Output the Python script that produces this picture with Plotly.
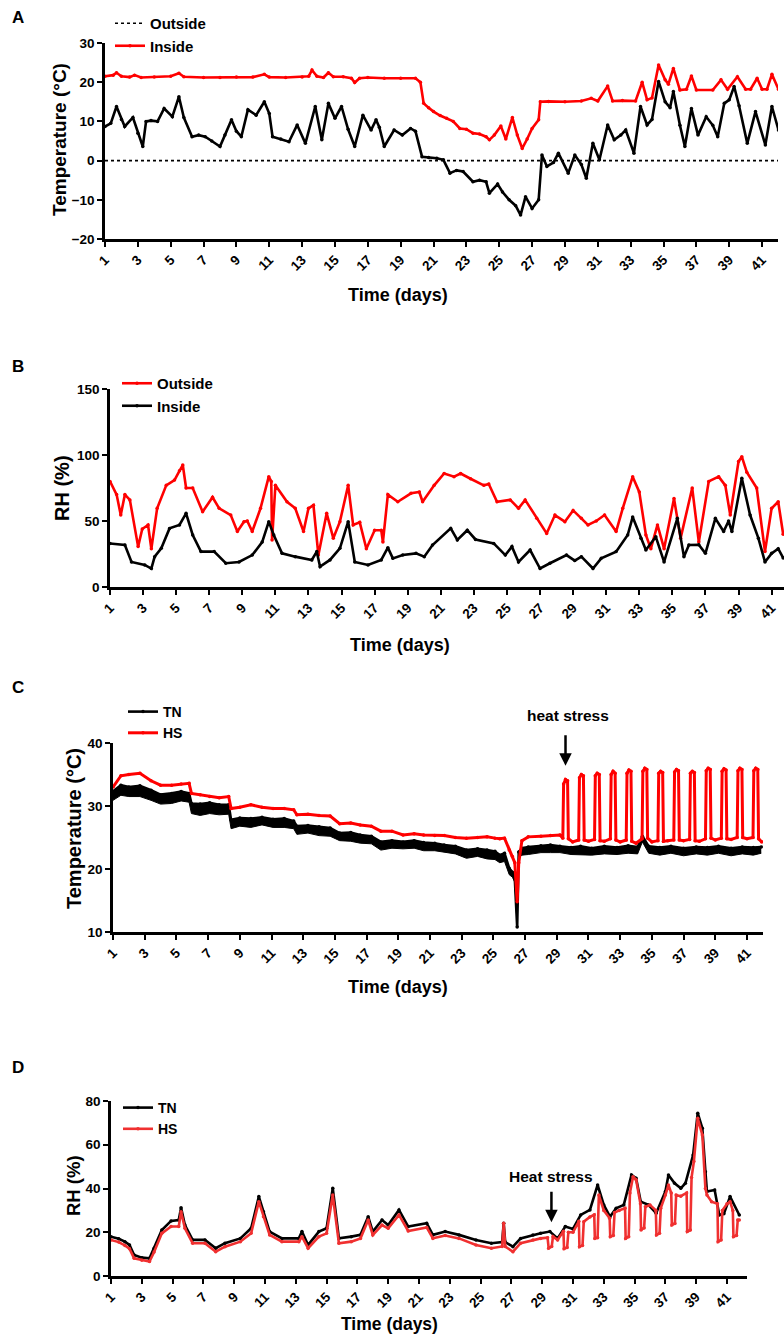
import plotly.graph_objects as go

W, H = 784, 1336

# ---------------- data ----------------
day_ticks = list(range(1, 42, 2))

# Panel A: temperature (°C)
a_out_day = [1, 1.35, 1.7, 2.0, 2.2, 2.7, 3.0, 3.3, 3.5, 3.8,
             4.2, 4.6, 5.1, 5.5, 5.8, 6.3, 6.7, 7.1, 7.5, 8.0,
             8.3, 8.7, 9.0, 9.3, 9.7, 10.2, 10.7, 11.0, 11.2, 11.7,
             12.2, 12.7, 13.2, 13.8, 14.2, 14.6, 15.0, 15.4, 15.8, 16.2,
             16.7, 17.2, 17.5, 17.7, 18.0, 18.6, 19.1, 19.6, 19.9, 20.3,
             20.7, 21.2, 21.6, 22.0, 22.4, 22.8, 23.4, 23.8, 24.2, 24.4,
             24.9, 25.2, 25.6, 26.0, 26.3, 26.6, 27.0, 27.4, 27.6, 27.9,
             28.3, 28.6, 29.2, 29.6, 30.0, 30.3, 30.7, 31.1, 31.6, 32.0,
             32.4, 32.7, 33.2, 33.6, 34.0, 34.3, 34.7, 35.1, 35.4, 35.6,
             36.0, 36.3, 36.7, 37.1, 37.6, 38.0, 38.3, 38.7, 39.0, 39.3,
             39.6, 40.1, 40.6, 41.2, 41.6, 42.0]
a_out_temp = [8.7, 9.5, 13.8, 10.5, 8.7, 11, 7, 3.6, 10, 10.2,
              10, 13.3, 11.2, 16.3, 11, 6.1, 6.5, 6.1, 5.0, 3.6,
              6.5, 10.4, 7.5, 6.1, 13, 11.6, 15, 12, 6.1, 5.5,
              4.8, 9.1, 4.4, 13.8, 5.3, 14.6, 10.8, 13.8, 8.0, 3.6,
              11.6, 7.8, 10.4, 8.5, 3.6, 7.8, 6.5, 8.2, 7.5, 1,
              0.8, 0.6, 0.2, -3.2, -2.5, -2.8, -5.4, -5.0, -5.4, -8.3,
              -6.0, -8.0, -10, -11.5, -13.9, -9.2, -12.2, -10, 1.4, -1.5,
              -0.5, 1.9, -3.2, 1.4, -1.0, -4.5, 4.4, 0.2, 9.1, 5.3,
              6.5, 7.8, 1.9, 13.8, 9.1, 10.5, 20.2, 15, 13.5, 17.6,
              9.0, 3.6, 13.3, 6.5, 11.2, 9.0, 6.1, 14.6, 15.5, 18.9,
              14, 4.4, 12.5, 4, 13.8, 7.8]
a_in_day = [1, 1.5, 1.7, 2.0, 2.5, 2.8, 3.2, 4.0, 5.0, 5.5,
            5.8, 7.0, 8.0, 9.0, 10.0, 10.7, 11.0, 12.0, 13.0, 13.4,
            13.6, 13.9, 14.3, 14.6, 14.9, 15.5, 16.0, 16.2, 16.5, 17.0,
            18.0, 19.0, 19.9, 20.2, 20.4, 20.7, 21.0, 21.4, 21.8, 22.2,
            22.6, 23.0, 23.4, 23.8, 24.2, 24.4, 24.7, 25.1, 25.4, 25.8,
            26.1, 26.4, 26.7, 27.0, 27.4, 27.5, 28.0, 29.0, 30.0, 30.6,
            31.0, 31.6, 31.9, 32.5, 33.3, 33.7, 34.0, 34.3, 34.7, 35.1,
            35.3, 35.6, 36.0, 36.4, 36.7, 37.0, 38.0, 38.5, 38.9, 39.5,
            40.0, 40.3, 40.7, 41.0, 41.3, 41.6, 42.0]
a_in_temp = [21.5, 21.8, 22.4, 21.5, 21.3, 21.8, 21.2, 21.3, 21.5, 22.3,
             21.4, 21.2, 21.2, 21.3, 21.3, 22, 21.3, 21.2, 21.3, 21.5,
             23.1, 21.5, 21.2, 22.4, 21.4, 21.4, 21.0, 19.9, 21.0, 21.2,
             21.0, 21.0, 21.0, 20, 14.6, 13.5, 12.5, 11.5, 10.8, 10,
             8.2, 8.0, 7, 6.8, 6.1, 5.3, 6.5, 8.8, 5.5, 11,
             6.5, 3.1, 5.5, 8.2, 10.4, 15, 15.1, 15.0, 15.2, 15.9,
             15.2, 19, 15.2, 15.3, 15.2, 20, 15.5, 16, 24.4, 20.6,
             19.5, 23.5, 18, 18.2, 21.6, 18, 18, 20.6, 18.2, 21.4,
             18.2, 18.2, 21, 18.2, 18.2, 22, 18.2]

# Panel B: relative humidity (%)
b_out_day = [1, 1.4, 1.65, 1.9, 2.2, 2.7, 2.95, 3.3, 3.5, 3.85,
             4.4, 4.9, 5.2, 5.4, 5.6, 6.0, 6.6, 7.2, 7.6, 8.3,
             8.7, 9.1, 9.3, 9.6, 10.1, 10.6, 10.75, 10.8, 11.0, 11.7,
             12.2, 12.7, 13.0, 13.3, 13.6, 14.1, 14.5, 14.9, 15.4, 15.7,
             16.1, 16.5, 17.0, 17.4, 17.5, 17.8, 18.4, 19.2, 19.7, 19.9,
             20.6, 21.2, 21.8, 22.2, 22.8, 23.6, 23.9, 24.4, 25.2, 25.7,
             26.1, 26.8, 27.4, 27.9, 28.5, 29.0, 29.5, 29.9, 30.4, 30.9,
             31.6, 32.0, 32.6, 33.0, 33.4, 33.7, 34.1, 34.5, 35.1, 35.5,
             36.2, 36.6, 37.2, 37.8, 38.2, 38.5, 39.0, 39.2, 39.5, 40.1,
             40.6, 41.0, 41.4, 41.7]
b_out_rh = [80, 70, 54.5, 70, 66, 30.6, 44, 47, 29, 59.6,
            77, 81, 88, 92.4, 75, 75, 57, 68, 59.6, 54.5,
            42, 49.5, 50, 42, 59.6, 83.6, 80, 35.6, 77, 64.6,
            59.6, 42, 59.6, 62, 24.2, 55.8, 37, 49.5, 77, 47,
            49, 29, 43, 43, 34, 70, 64.6, 71, 72, 64.6,
            77, 86, 83.6, 86, 82, 77, 78, 64.6, 66, 59.6,
            66, 52, 40.6, 54.5, 49.5, 58, 52, 47, 50, 54.5,
            42, 59.6, 83.6, 72, 39.4, 29, 47, 29, 67, 37,
            75, 34, 80, 83.6, 77, 54.5, 95, 98.7, 87, 75,
            26.8, 59.6, 64.6, 40]
b_in_day = [1, 1.9, 2.3, 3.1, 3.5, 3.7, 4.1, 4.6, 5.2, 5.6,
            6.0, 6.5, 7.3, 8.0, 8.8, 9.6, 10.2, 10.6, 10.9, 11.4,
            12.2, 13.2, 13.5, 13.7, 14.3, 14.9, 15.4, 15.8, 16.6, 17.4,
            17.8, 18.1, 18.7, 19.5, 20.0, 20.5, 21.6, 22.0, 22.6, 23.1,
            24.2, 24.9, 25.3, 25.7, 26.4, 27.0, 27.6, 28.6, 29.1, 29.5,
            30.2, 30.7, 31.6, 32.3, 32.6, 33.1, 33.4, 34.0, 34.5, 35.3,
            35.7, 36.0, 36.6, 37.0, 37.6, 38.1, 38.4, 38.6, 39.2, 39.7,
            40.2, 40.6, 41.0, 41.4, 41.7]
b_in_rh = [33, 31.8, 19, 16.7, 14, 23, 29.3, 44.4, 47, 55.8,
           39.4, 26.8, 26.8, 18, 19, 24.2, 34, 49.5, 39.4, 25.5,
           23, 20.5, 26.8, 15.4, 20.5, 29.3, 49.5, 19, 16.7, 20.5,
           29.8, 21.7, 24.2, 25.5, 23, 31.8, 44.4, 35.6, 43, 36,
           33, 24.2, 30.6, 19, 28, 14, 18, 24.2, 20, 23,
           14, 21.7, 26.8, 39.4, 53, 37, 28, 38, 19, 52,
           23, 31.8, 32, 25.5, 52, 42, 50, 42, 82.3, 54.5,
           37, 19, 25.5, 29, 22]

# Panel C: room temperature (°C), TN vs HS
c_tn_day = [1, 1.5, 2, 2.7, 3.4, 4, 4.7, 5.3, 5.8, 5.95,
            6.5, 7.1, 7.7, 8.3, 8.45, 9, 9.7, 10.4, 11.1, 11.8,
            12.4, 12.6, 13.3, 14, 14.7, 15.3, 16, 16.6, 17.3, 17.9,
            18.6, 19.3, 20, 20.6, 21.3, 21.9, 22.6, 23.3, 24, 24.6,
            25.1, 25.4, 25.7, 26, 26.2, 26.35, 26.5, 26.6, 26.8, 27.2,
            28, 28.6, 29.2, 29.9, 30.5, 31.2, 32, 32.8, 33.5, 34.1,
            34.4, 34.8, 35.5, 36.2, 37, 37.8, 38.5, 39.2, 40, 40.7,
            41.4, 41.9]
c_tn_temp = [32.3, 33.3, 33, 33.2, 32.5, 31.8, 32, 32.3, 32, 30.4,
             30.3, 30.5, 30.2, 30.2, 27.8, 28.1, 28, 28.2, 27.9, 28,
             27.6, 26.8, 26.9, 26.7, 26.5, 25.7, 25.8, 25.4, 25.2, 24.3,
             24.5, 24.3, 24.5, 24.2, 24.1, 23.8, 23.6, 23, 23.2, 23,
             22.8, 22.2, 22.5, 20.1, 19.5, 18.5, 10.8, 22.7, 23.3, 23.5,
             23.7, 23.8, 23.6, 23.4, 23.6, 23.3, 23.6, 23.4, 23.7, 23.5,
             25.2, 23.6, 23.4, 23.6, 23.3, 23.5, 23.4, 23.6, 23.3, 23.5,
             23.4, 23.5]
c_tn_sd = [1.4, 1.6, 1.5, 1.7, 1.6, 1.5, 1.6, 1.5, 1.4, 1.6,
           1.8, 1.7, 1.6, 1.5, 1.4, 1.3, 1.4, 1.2, 1.3, 1.4,
           1.2, 1.3, 1.2, 1.4, 1.3, 1.2, 1.4, 1.3, 1.2, 1.3,
           1.2, 1.1, 1.2, 1.3, 1.2, 1.1, 1.2, 1.3, 1.2, 1.4,
           1.3, 1.2, 1.3, 1.0, 0.8, 0.6, 0.0, 1.0, 1.1, 1.2,
           1.1, 1.2, 1.0, 1.1, 1.3, 1.1, 1.2, 1.1, 1.2, 1.1,
           0.9, 1.1, 1.2, 1.1, 1.2, 1.1, 1.2, 1.1, 1.2, 1.1,
           1.2, 1.0]
c_hs_day = [1, 1.5, 2, 2.7, 3.4, 4, 4.7, 5.3, 5.8, 5.95,
            6.5, 7.1, 7.7, 8.3, 8.45, 9, 9.7, 10.4, 11.1, 11.8,
            12.4, 12.6, 13.3, 14, 14.7, 15.3, 16, 16.6, 17.3, 17.9,
            18.6, 19.3, 20, 20.6, 21.3, 21.9, 22.6, 23.3, 24, 24.6,
            25.1, 25.4, 25.7, 26, 26.2, 26.35, 26.5, 26.6, 26.8, 27.2,
            28, 28.6, 29.2,
            29.38, 29.43, 29.55, 29.68, 29.73, 30.0,
            30.38, 30.43, 30.55, 30.68, 30.73, 31.0,
            31.38, 31.43, 31.55, 31.68, 31.73, 32.0,
            32.38, 32.43, 32.55, 32.68, 32.73, 33.0,
            33.38, 33.43, 33.55, 33.68, 33.73, 34.0,
            34.38, 34.43, 34.55, 34.68, 34.73, 35.0,
            35.38, 35.43, 35.55, 35.68, 35.73, 36.0,
            36.38, 36.43, 36.55, 36.68, 36.73, 37.0,
            37.38, 37.43, 37.55, 37.68, 37.73, 38.0,
            38.38, 38.43, 38.55, 38.68, 38.73, 39.0,
            39.38, 39.43, 39.55, 39.68, 39.73, 40.0,
            40.38, 40.43, 40.55, 40.68, 40.73, 41.0,
            41.38, 41.43, 41.55, 41.68, 41.73, 41.93]
c_hs_temp = [33, 34.8, 35, 35.2, 34, 33.3, 33.3, 33.5, 33.6, 32,
             31.8, 31.5, 31.3, 31.5, 29.6, 29.8, 30.2, 29.8, 29.6, 29.6,
             29.4, 28.6, 28.7, 28.5, 28.4, 27.2, 27.3, 27, 26.8, 26,
             26, 25.4, 25.6, 25.4, 25.3, 25.3, 25, 24.9, 25, 25.1,
             24.9, 24.8, 24.9, 23, 22, 21, 14.8, 21, 24.5, 25.1,
             25.2, 25.3, 25.4,
             24.9, 33.5, 34.2, 34.0, 24.8, 24.3,
             24.6, 34.5, 35.0, 34.8, 24.6, 24.4,
             24.7, 34.8, 35.2, 35.0, 24.5, 24.4,
             24.8, 35.0, 35.5, 35.2, 24.6, 24.3,
             24.6, 35.2, 35.7, 35.5, 24.4, 24.1,
             24.8, 35.5, 36.0, 35.8, 24.9, 24.3,
             24.5, 35.2, 35.5, 35.3, 24.4, 24.5,
             24.6, 35.4, 35.8, 35.6, 24.6, 24.5,
             24.7, 35.2, 35.5, 35.3, 24.5, 24.4,
             24.8, 35.6, 36.0, 35.8, 24.9, 24.6,
             24.9, 35.5, 35.9, 35.7, 24.8, 24.7,
             25.0, 35.6, 36.0, 35.8, 25.0, 24.8,
             25.0, 35.6, 36.0, 35.8, 24.8, 24.3]

# Panel D: room relative humidity (%), TN vs HS
d_tn_day = [1, 1.5, 1.9, 2.2, 2.5, 3, 3.5, 3.8, 4.3, 4.9,
            5.4, 5.55, 5.8, 6.3, 7.1, 7.8, 8.4, 9.4, 10.1, 10.6,
            10.9, 11.3, 12.1, 13.2, 13.4, 13.8, 14.5, 15, 15.4, 15.8,
            16.6, 17.2, 17.7, 18, 18.6, 19, 19.7, 20.3, 21.5, 21.9,
            22.7, 23.6, 24.7, 25.7, 26.4, 26.5, 26.6, 27.1, 27.6, 28.4,
            28.9, 29.5, 30, 30.5, 31, 31.5, 32.1, 32.6, 33, 33.4,
            33.8, 34.3, 34.8, 35.1, 35.4, 35.9, 36.4, 37, 37.2, 37.6,
            38, 38.3, 38.8, 39.1, 39.4, 39.6, 39.7, 40.2, 40.5, 40.8,
            41.2, 41.8]
d_tn_rh = [18, 17, 15.7, 14.2, 9.6, 8.4, 8.1, 12.7, 21, 25.2,
           25.6, 31.2, 23.3, 16.5, 16.5, 12.7, 15, 17.2, 21.8, 36.3,
           29.4, 20.3, 17.2, 17.2, 20.3, 14.2, 20.3, 21.8, 40.1, 17.2,
           18, 18.8, 27.1, 20.3, 25.6, 23.3, 30.2, 22.6, 24.1, 18.8,
           20.3, 18.8, 16.5, 15, 15.5, 24.1, 15.5, 13.4, 17.2, 18.8,
           19.5, 20.3, 17.2, 22.6, 21.5, 27.9, 30.2, 41.6, 32.5, 27.1,
           31, 32.5, 46.2, 44.7, 34, 32.5, 28.7, 38.6, 46.2, 42.4,
           40.1, 42.4, 55.3, 74.4, 67.5, 47.7, 38.6, 39.3, 27.9, 28.5,
           36.3, 27.9]
d_hs_day = [1, 1.5, 1.9, 2.2, 2.5, 3, 3.5, 3.8, 4.3, 4.9,
            5.4, 5.55, 5.8, 6.3, 7.1, 7.8, 8.4, 9.4, 10.1, 10.6,
            10.9, 11.3, 12.1, 13.2, 13.4, 13.8, 14.5, 15, 15.4, 15.8,
            16.6, 17.2, 17.7, 18, 18.6, 19, 19.7, 20.3, 21.5, 21.9,
            22.7, 23.6, 24.7, 25.7, 26.4, 26.5, 26.6, 27.1, 27.6, 28.4,
            28.9, 29.35,
            29.42, 29.62, 29.7, 30.0, 30.38, 30.42, 30.62, 30.7, 31.0, 31.38,
            31.42, 31.62, 31.7, 32.1, 32.38, 32.42, 32.6, 32.68, 33.0, 33.38,
            33.42, 33.62, 33.7, 34.0, 34.38, 34.42, 34.62, 34.7, 34.9, 35.1,
            35.38, 35.42, 35.62, 35.7, 36.0, 36.38, 36.42, 36.62, 36.7, 37.0,
            37.2, 37.38, 37.42, 37.62, 37.7, 38.0, 38.38, 38.42, 38.62, 38.7,
            38.85, 39.1, 39.4, 39.6, 39.7, 40.0, 40.38, 40.42, 40.62, 40.7,
            41.0, 41.2, 41.38, 41.42, 41.62, 41.7, 41.8]
d_hs_rh = [16.5, 15.5, 14, 12.5, 8.1, 7.2, 6.6, 11, 19.5, 22.6,
           22.6, 29.4, 21.8, 15, 15, 11.1, 13.4, 15.7, 19.5, 34,
           27.1, 18.8, 15.7, 15.7, 18, 12.7, 18, 19.5, 37, 15,
           15.7, 17.2, 25.6, 18.8, 23.3, 21.8, 27.9, 20.6, 22.2, 17.2,
           18.5, 17.2, 14.2, 12.7, 13.5, 24.1, 13.5, 11.1, 15, 16.5,
           17.2, 17.5,
           12.7, 13.5, 18, 16.5, 20.5, 12.5, 13, 20, 20, 25,
           13.4, 14, 24.8, 27, 28, 17.2, 17.5, 37, 30, 26.4,
           18, 18.5, 29, 30, 31, 17.2, 18, 38, 45.4, 44,
           33, 21, 22, 31.7, 32.5, 30, 18.8, 19.5, 31, 37,
           41.6, 38, 23.3, 24, 37, 36.5, 38, 20.3, 21, 45,
           52.3, 72.1, 64.5, 40, 37, 34, 33, 15.7, 16.5, 30,
           33, 34, 30, 18, 18.5, 25.6, 25.6]

# ---------------- helpers (layout only) ----------------
def px(x):
    return x / W


def py(y):
    return 1 - y / H


RED = "#ff0000"
BLACK = "#000000"
FONT = "Arial"
LW = 2.6
MS = 3.5

fig = go.Figure()

# Panel A
fig.add_trace(go.Scatter(x=a_out_day, y=a_out_temp, mode="lines+markers",
                         line=dict(color=BLACK, width=LW),
                         marker=dict(size=MS, color=BLACK),
                         xaxis="x", yaxis="y", showlegend=False))
fig.add_trace(go.Scatter(x=[None], y=[None], mode="lines", name="Outside",
                         line=dict(color=BLACK, width=1.6, dash="dot"),
                         xaxis="x", yaxis="y", legend="legend"))
fig.add_trace(go.Scatter(x=a_in_day, y=a_in_temp, mode="lines+markers", name="Inside",
                         line=dict(color=RED, width=LW),
                         marker=dict(size=MS, color=RED),
                         xaxis="x", yaxis="y", legend="legend"))

# Panel B
fig.add_trace(go.Scatter(x=b_out_day, y=b_out_rh, mode="lines+markers", name="Outside",
                         line=dict(color=RED, width=LW),
                         marker=dict(size=MS, color=RED),
                         xaxis="x2", yaxis="y2", legend="legend2"))
fig.add_trace(go.Scatter(x=b_in_day, y=b_in_rh, mode="lines+markers", name="Inside",
                         line=dict(color=BLACK, width=LW),
                         marker=dict(size=MS, color=BLACK),
                         xaxis="x2", yaxis="y2", legend="legend2"))

# Panel C (TN error band below the mean, then lines)
c_tn_low = [v - s for v, s in zip(c_tn_temp, c_tn_sd)]
fig.add_trace(go.Scatter(x=c_tn_day, y=c_tn_low, mode="lines",
                         line=dict(color=BLACK, width=1),
                         xaxis="x3", yaxis="y3", showlegend=False, hoverinfo="skip"))
fig.add_trace(go.Scatter(x=c_tn_day, y=c_tn_temp, mode="lines",
                         line=dict(color=BLACK, width=1), fill="tonexty",
                         fillcolor=BLACK, xaxis="x3", yaxis="y3",
                         showlegend=False, hoverinfo="skip"))
fig.add_trace(go.Scatter(x=c_tn_day, y=c_tn_temp, mode="lines+markers", name="TN",
                         line=dict(color=BLACK, width=LW),
                         marker=dict(size=MS, color=BLACK),
                         xaxis="x3", yaxis="y3", legend="legend3"))
fig.add_trace(go.Scatter(x=c_hs_day, y=c_hs_temp, mode="lines+markers", name="HS",
                         line=dict(color=RED, width=3),
                         marker=dict(size=MS, color=RED),
                         xaxis="x3", yaxis="y3", legend="legend3"))

# Panel D
fig.add_trace(go.Scatter(x=d_tn_day, y=d_tn_rh, mode="lines+markers", name="TN",
                         line=dict(color=BLACK, width=LW),
                         marker=dict(size=MS, color=BLACK),
                         xaxis="x4", yaxis="y4", legend="legend4"))
fig.add_trace(go.Scatter(x=d_hs_day, y=d_hs_rh, mode="lines+markers", name="HS",
                         line=dict(color="#f03030", width=LW),
                         marker=dict(size=MS, color="#f03030"),
                         xaxis="x4", yaxis="y4", legend="legend4"))

# zero reference line in panel A
fig.add_shape(type="line", xref="x", yref="y", x0=1, x1=41.97, y0=0, y1=0,
              line=dict(color=BLACK, width=1.6, dash="dot"))

tickfont = dict(family=FONT, size=13.5, color=BLACK, weight="bold")


def xaxis(domain, rng, anchor):
    return dict(domain=domain, range=rng, anchor=anchor, tickmode="array",
                tickvals=day_ticks, ticktext=[str(d) for d in day_ticks],
                tickangle=-45, showline=True, linecolor=BLACK, linewidth=2.5,
                ticks="outside", ticklen=5, tickwidth=2, tickcolor=BLACK,
                tickfont=tickfont, showgrid=False, zeroline=False, automargin=False)


def yaxis(domain, rng, anchor, tickvals):
    return dict(domain=domain, range=rng, anchor=anchor, tickmode="array",
                tickvals=tickvals, showline=True, linecolor=BLACK, linewidth=2.5,
                ticks="outside", ticklen=5, tickwidth=2, tickcolor=BLACK,
                tickfont=tickfont, showgrid=False, zeroline=False, automargin=False)


def legend(x, y, size):
    return dict(x=px(x), y=py(y), xanchor="left", yanchor="top",
                bgcolor="rgba(0,0,0,0)", traceorder="normal",
                font=dict(family=FONT, size=size, color=BLACK, weight="bold"),
                tracegroupgap=0, itemwidth=30)


annotations = []


def label(text, x, y, size, angle=0):
    annotations.append(dict(text=f"<b>{text}</b>", x=px(x), y=py(y), xref="paper",
                            yref="paper", showarrow=False, textangle=angle,
                            font=dict(family=FONT, size=size, color=BLACK),
                            xanchor="center", yanchor="middle"))


label("A", 18, 18, 17)
label("B", 18, 367, 17)
label("C", 18, 688, 17)
label("D", 18, 1067, 17)
label("Time (days)", 398, 295, 18)
label("Time (days)", 400, 645, 18)
label("Time (days)", 398, 987, 18)
label("Time (days)", 389, 1324, 17.5)
label("Temperature (°C)", 59, 140, 19, -90)
label("RH (%)", 62, 488, 20, -90)
label("Temperature (°C)", 74, 829, 20, -90)
label("RH (%)", 73, 1186, 18.5, -90)
label("heat stress", 568, 715, 15.5)
label("Heat stress", 551, 1176, 15.5)

annotations.append(dict(x=29.55, y=36.4, xref="x3", yref="y3", text="", showarrow=True,
                        ax=0, ay=-32, arrowhead=2, arrowsize=1, arrowwidth=2.5,
                        arrowcolor=BLACK))
annotations.append(dict(x=29.6, y=24.6, xref="x4", yref="y4", text="", showarrow=True,
                        ax=0, ay=-32, arrowhead=2, arrowsize=1, arrowwidth=2.5,
                        arrowcolor=BLACK))

fig.update_layout(
    width=W, height=H, template="none",
    margin=dict(l=0, r=0, t=0, b=0),
    paper_bgcolor="white", plot_bgcolor="white",
    font=dict(family=FONT, color=BLACK),
    xaxis=xaxis([px(105), px(778)], [1, 41.97], "y"),
    yaxis=yaxis([py(239), py(43)], [-20, 30], "x", [-20, -10, 0, 10, 20, 30]),
    xaxis2=xaxis([px(110), 1.0], [1, 41.75], "y2"),
    yaxis2=yaxis([py(587), py(389)], [0, 150], "x2", [0, 50, 100, 150]),
    xaxis3=xaxis([px(113), px(763)], [1, 42.01], "y3"),
    yaxis3=yaxis([py(932), py(743)], [10, 40], "x3", [10, 20, 30, 40]),
    xaxis4=xaxis([px(111), px(747)], [1, 42.3], "y4"),
    yaxis4=yaxis([py(1276), py(1101)], [0, 80], "x4", [0, 20, 40, 60, 80]),
    legend=legend(110, 7, 15),
    legend2=legend(117, 367, 15),
    legend3=legend(123, 696, 14),
    legend4=legend(118, 1092, 14),
    annotations=annotations,
    showlegend=True,
)

fig.write_html("out.html", config={"displayModeBar": False},
               post_script="document.body.style.margin='0px';document.body.style.padding='0px';")
